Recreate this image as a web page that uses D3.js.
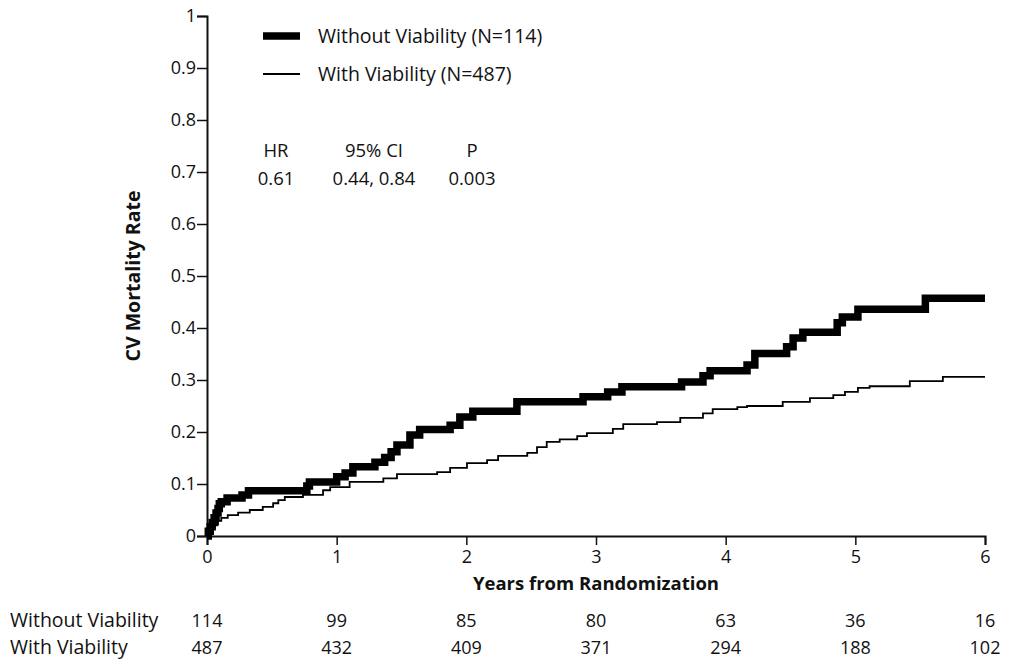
<!DOCTYPE html>
<html>
<head>
<meta charset="utf-8">
<script src="https://cdn.jsdelivr.net/npm/d3@7"></script>
<style>
  body { margin: 0; background: #fff; }
  svg { display: block; }
  text { font-family: "Open Sans", "Liberation Sans", sans-serif; fill: #111; }
</style>
</head>
<body>
<svg id="chart" width="1012" height="661"></svg>
<script>
// ---- Data ----
const xTicks = [0, 1, 2, 3, 4, 5, 6];
const yTicks = [0, 0.1, 0.2, 0.3, 0.4, 0.5, 0.6, 0.7, 0.8, 0.9, 1];
const yTickLabels = ["0", "0.1", "0.2", "0.3", "0.4", "0.5", "0.6", "0.7", "0.8", "0.9", "1"];

// Without Viability (thick) : [years, cumulative rate]
const withoutTimes = [0, 0.01, 0.025, 0.04, 0.055, 0.07, 0.085, 0.095, 0.11, 0.155, 0.27, 0.32, 0.77, 0.79, 1.0, 1.065, 1.125, 1.295, 1.37, 1.42, 1.465, 1.565, 1.64, 1.875, 1.95, 2.05, 2.39, 2.90, 3.09, 3.20, 3.66, 3.825, 3.88, 4.165, 4.225, 4.47, 4.52, 4.595, 4.86, 4.90, 5.02, 5.54, 6.0];
const withoutRates = [0, 0.009, 0.018, 0.026, 0.035, 0.044, 0.053, 0.062, 0.066, 0.073, 0.079, 0.087, 0.096, 0.104, 0.114, 0.121, 0.133, 0.142, 0.151, 0.162, 0.175, 0.194, 0.205, 0.213, 0.229, 0.24, 0.258, 0.268, 0.277, 0.287, 0.296, 0.308, 0.318, 0.329, 0.351, 0.364, 0.381, 0.392, 0.41, 0.421, 0.436, 0.457, 0.457];

// With Viability (thin)
const withTimes = [0, 0.015, 0.04, 0.06, 0.085, 0.11, 0.16, 0.24, 0.33, 0.43, 0.51, 0.55, 0.60, 0.74, 0.895, 0.95, 1.10, 1.36, 1.465, 1.775, 1.875, 2.005, 2.16, 2.245, 2.47, 2.545, 2.62, 2.72, 2.855, 2.93, 3.13, 3.21, 3.47, 3.65, 3.825, 3.90, 4.09, 4.165, 4.44, 4.65, 4.83, 4.92, 5.02, 5.11, 5.42, 5.675, 6.0];
const withRates = [0, 0.007, 0.015, 0.022, 0.029, 0.035, 0.04, 0.045, 0.05, 0.056, 0.063, 0.069, 0.075, 0.079, 0.088, 0.094, 0.104, 0.111, 0.119, 0.123, 0.131, 0.14, 0.146, 0.154, 0.16, 0.171, 0.181, 0.186, 0.192, 0.198, 0.206, 0.215, 0.219, 0.227, 0.236, 0.244, 0.248, 0.25, 0.258, 0.265, 0.271, 0.277, 0.285, 0.288, 0.298, 0.306, 0.306];

const seriesNames = ["Without Viability (N=114)", "With Viability (N=487)"];
const riskLabels = ["Without Viability", "With Viability"];
const riskWithout = [114, 99, 85, 80, 63, 36, 16];
const riskWith = [487, 432, 409, 371, 294, 188, 102];
const statHeaders = ["HR", "95% CI", "P"];
const statValues = ["0.61", "0.44, 0.84", "0.003"];

// ---- Layout ----
const svg = d3.select("#chart");
const x = d3.scaleLinear().domain([0, 6]).range([207, 985]);
const y = d3.scaleLinear().domain([0, 1]).range([536, 16]);

// Axes
const yAxis = d3.axisLeft(y).tickValues(yTicks).tickFormat((d, i) => yTickLabels[i]).tickSize(10).tickPadding(1);
const gy = svg.append("g").attr("transform", "translate(207,0)").call(yAxis);
gy.select(".domain").attr("stroke", "#111").attr("stroke-width", 2);
gy.selectAll(".tick line").attr("stroke", "#111").attr("stroke-width", 1.5);
gy.selectAll(".tick text").style("font-size", "18px").attr("fill", "#111");

const xAxis = d3.axisBottom(x).tickValues(xTicks).tickFormat(d3.format("d")).tickSize(9).tickPadding(5);
const gx = svg.append("g").attr("transform", "translate(0,536)").call(xAxis);
gx.select(".domain").attr("stroke", "#111").attr("stroke-width", 2);
gx.selectAll(".tick line").attr("stroke", "#111").attr("stroke-width", 1.5);
gx.selectAll(".tick text").style("font-size", "18px").attr("fill", "#111");

// Axis titles
svg.append("text").attr("x", 596).attr("y", 590).attr("text-anchor", "middle")
  .style("font-size", "18.5px").style("font-weight", "bold").text("Years from Randomization");
svg.append("text").attr("transform", "translate(140,276) rotate(-90)").attr("text-anchor", "middle")
  .style("font-size", "19.5px").style("font-weight", "bold").text("CV Mortality Rate");

// Curves
const line = d3.line().x(d => x(d[0])).y(d => y(d[1])).curve(d3.curveStepAfter);
const withoutData = withoutTimes.map((t, i) => [t, withoutRates[i]]);
const withData = withTimes.map((t, i) => [t, withRates[i]]);

svg.append("path").datum(withData).attr("d", line)
  .attr("fill", "none").attr("stroke", "#000").attr("stroke-width", 1.8);
svg.append("path").datum(withoutData).attr("d", line)
  .attr("fill", "none").attr("stroke", "#000").attr("stroke-width", 7.5);

// Legend
const legend = svg.append("g");
legend.append("line").attr("x1", 263).attr("x2", 300).attr("y1", 36).attr("y2", 36)
  .attr("stroke", "#000").attr("stroke-width", 7.5);
legend.append("line").attr("x1", 263).attr("x2", 300).attr("y1", 74).attr("y2", 74)
  .attr("stroke", "#000").attr("stroke-width", 1.8);
legend.append("text").attr("x", 318).attr("y", 43).style("font-size", "19.5px").text(seriesNames[0]);
legend.append("text").attr("x", 318).attr("y", 81).style("font-size", "19.5px").text(seriesNames[1]);

// Stats
const statX = [276, 374, 472];
statHeaders.forEach((h, i) => {
  svg.append("text").attr("x", statX[i]).attr("y", 157).attr("text-anchor", "middle")
    .style("font-size", "18.5px").text(h);
  svg.append("text").attr("x", statX[i]).attr("y", 185).attr("text-anchor", "middle")
    .style("font-size", "18.5px").text(statValues[i]);
});

// Risk table
svg.append("text").attr("x", 10).attr("y", 627).style("font-size", "19.5px").text(riskLabels[0]);
svg.append("text").attr("x", 10).attr("y", 654).style("font-size", "19.5px").text(riskLabels[1]);
xTicks.forEach((t, i) => {
  svg.append("text").attr("x", x(t)).attr("y", 627).attr("text-anchor", "middle")
    .style("font-size", "18px").text(riskWithout[i]);
  svg.append("text").attr("x", x(t)).attr("y", 654).attr("text-anchor", "middle")
    .style("font-size", "18px").text(riskWith[i]);
});
</script>
</body>
</html>
